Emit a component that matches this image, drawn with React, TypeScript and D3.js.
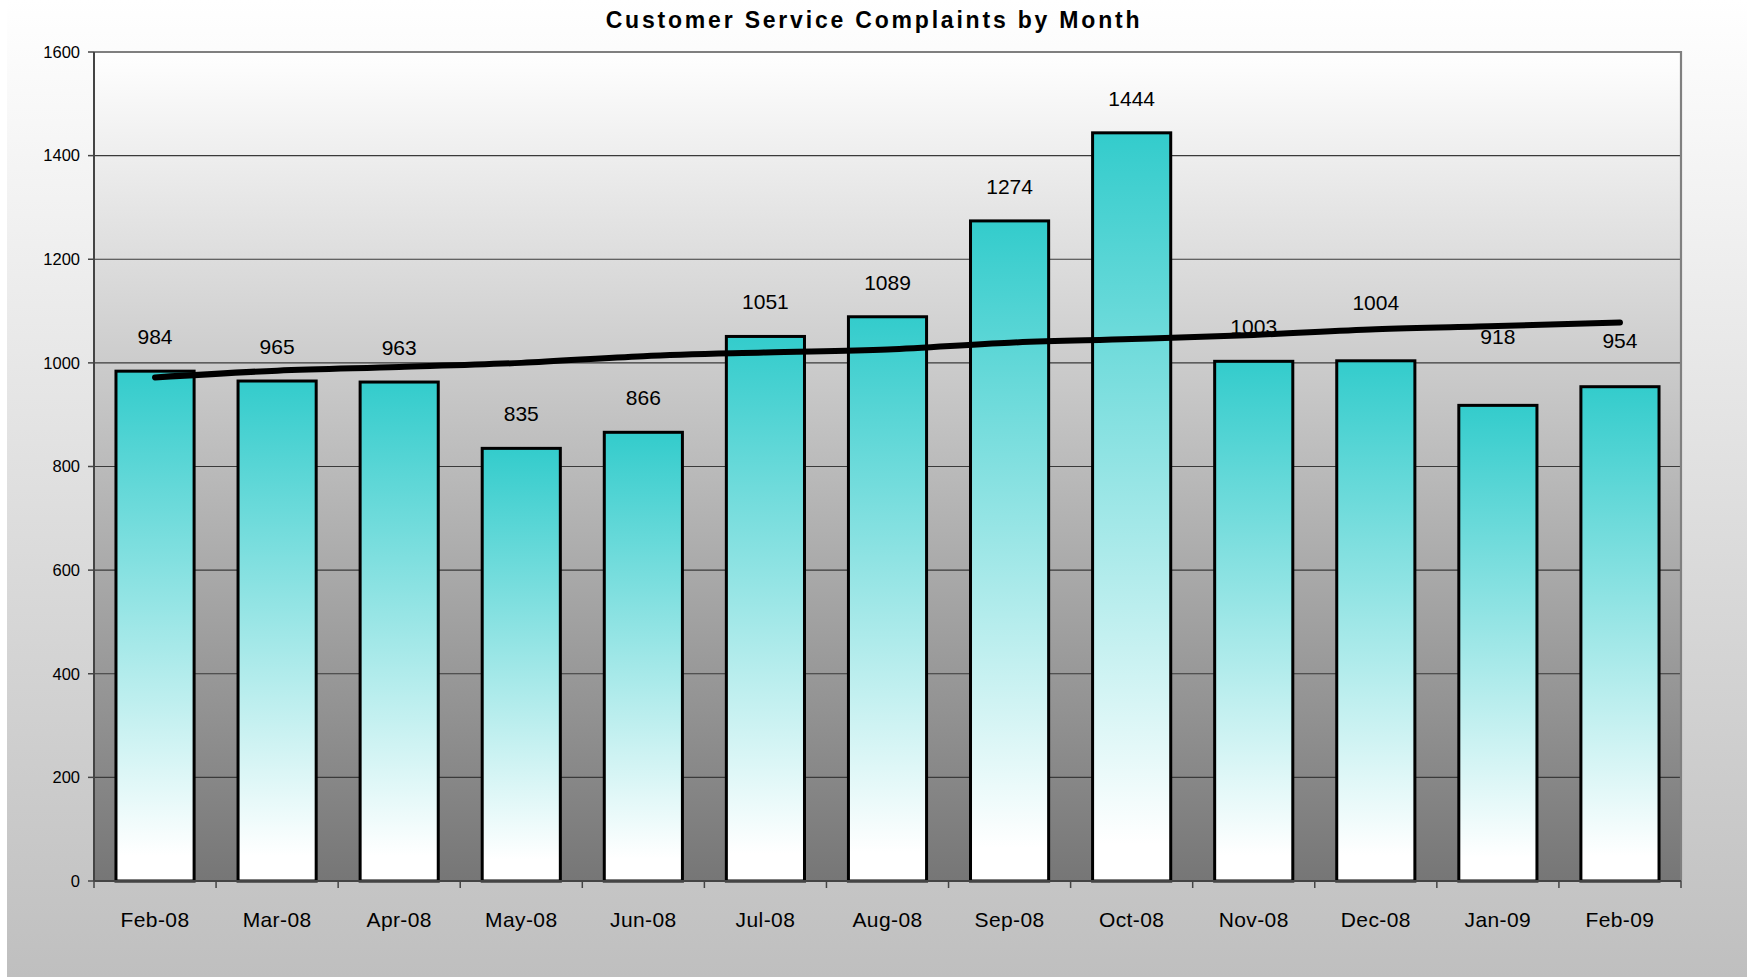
import React from "react";
import * as d3 from "d3";

const months = [
  "Feb-08", "Mar-08", "Apr-08", "May-08", "Jun-08", "Jul-08", "Aug-08",
  "Sep-08", "Oct-08", "Nov-08", "Dec-08", "Jan-09", "Feb-09",
];
const complaints = [984, 965, 963, 835, 866, 1051, 1089, 1274, 1444, 1003, 1004, 918, 954];
// trend line
const trend = [972, 985, 992, 1000, 1013, 1020, 1026, 1039, 1046, 1054, 1065, 1071, 1078];
const yTicks = [0, 200, 400, 600, 800, 1000, 1200, 1400, 1600];

// a few labels were dragged up by hand in the original
const labelNudge: Record<string, number> = { "Dec-08": -24, "Jan-09": -34, "Feb-09": -12 };

const W = 1747;
const H = 977;
const margin = { top: 52, right: 66, bottom: 96, left: 94 };
const font = "'Liberation Sans', Arial, sans-serif";

const App = () => {
  const x = d3
    .scaleBand<string>()
    .domain(months)
    .range([margin.left, W - margin.right])
    .paddingInner(0.36)
    .paddingOuter(0.18);
  const y = d3.scaleLinear().domain([0, 1600]).range([H - margin.bottom, margin.top]);

  const step = x.step();
  const cx = (m: string) => (x(m) ?? 0) + x.bandwidth() / 2;

  const line = d3
    .line<number>()
    .x((_, i) => cx(months[i]))
    .y((d) => y(d))
    .curve(d3.curveMonotoneX);

  const left = margin.left;
  const right = W - margin.right;
  const top = margin.top;
  const bottom = H - margin.bottom;

  // category boundaries for x ticks
  const xTicks = d3.range(months.length + 1).map((i) => left + i * step);

  return (
    <svg
      width={W}
      height={H}
      style={{ position: "absolute", left: 0, top: 0 }}
      fontFamily={font}
    >
      <defs>
        <linearGradient id="bgGrad" x1="0" y1="0" x2="0" y2="1">
          <stop offset="0" stopColor="#ffffff" />
          <stop offset="1" stopColor="#bfbfbf" />
        </linearGradient>
        <linearGradient id="plotGrad" x1="0" y1="0" x2="0" y2="1">
          <stop offset="0" stopColor="#ffffff" />
          <stop offset="1" stopColor="#767676" />
        </linearGradient>
        <linearGradient id="barGrad" x1="0" y1="0" x2="0" y2="1">
          <stop offset="0" stopColor="#33cccc" />
          <stop offset="0.95" stopColor="#ffffff" />
        </linearGradient>
      </defs>

      <rect x={0} y={0} width={W} height={H} fill="#ffffff" />
      <rect x={7} y={0} width={W - 7} height={H} fill="url(#bgGrad)" />

      <text
        x={874}
        y={28}
        textAnchor="middle"
        fontSize={23}
        fontWeight="bold"
        letterSpacing={2.8}
        fill="#000"
      >
        Customer Service Complaints by Month
      </text>

      <rect x={left} y={top} width={right - left} height={bottom - top} fill="url(#plotGrad)" />

      {yTicks
        .filter((t) => t > 0 && t < 1600)
        .map((t) => (
          <line key={t} x1={left} x2={right} y1={y(t)} y2={y(t)} stroke="#3a3a3a" strokeWidth={1.2} />
        ))}

      {/* border top & right */}
      <path
        d={`M${left},${top}H${right}V${bottom}`}
        fill="none"
        stroke="#808080"
        strokeWidth={2.2}
      />

      {months.map((m, i) => (
        <rect
          key={m}
          x={x(m)}
          y={y(complaints[i])}
          width={x.bandwidth()}
          height={bottom - y(complaints[i])}
          fill="url(#barGrad)"
          stroke="#000"
          strokeWidth={3}
        />
      ))}

      {/* axes */}
      <line x1={left} x2={left} y1={top} y2={bottom} stroke="#444" strokeWidth={2} />
      <line x1={left} x2={right} y1={bottom} y2={bottom} stroke="#444" strokeWidth={2} />
      {yTicks.map((t) => (
        <g key={t}>
          <line x1={left - 6} x2={left} y1={y(t)} y2={y(t)} stroke="#444" strokeWidth={1.5} />
          <text x={left - 14} y={y(t)} dy="0.35em" textAnchor="end" fontSize={16.5} fill="#000">
            {t}
          </text>
        </g>
      ))}
      {xTicks.map((tx, i) => (
        <line key={i} x1={tx} x2={tx} y1={bottom} y2={bottom + 7} stroke="#444" strokeWidth={1.5} />
      ))}
      {months.map((m) => (
        <text key={m} x={cx(m)} y={927} textAnchor="middle" fontSize={21} letterSpacing={0.4} fill="#000">
          {m}
        </text>
      ))}

      {/* data labels */}
      {months.map((m, i) => (
        <text
          key={m}
          x={cx(m)}
          y={y(complaints[i]) - 27 + (labelNudge[m] ?? 0)}
          textAnchor="middle"
          fontSize={21}
          fill="#000"
        >
          {complaints[i]}
        </text>
      ))}

      <path
        d={line(trend) ?? ""}
        fill="none"
        stroke="#000"
        strokeWidth={6}
        strokeLinecap="round"
        strokeLinejoin="round"
      />
    </svg>
  );
};

export default App;
